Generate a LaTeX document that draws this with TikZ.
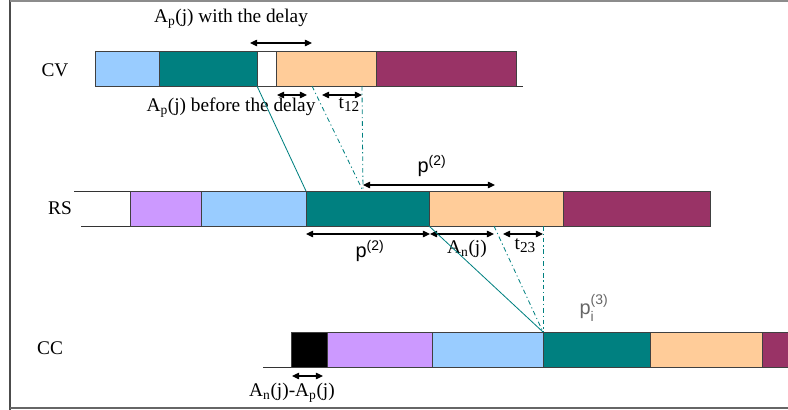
\documentclass[tikz,border=0pt]{standalone}
\usepackage{amsmath}
\usepackage{fontspec}
\setmainfont{Liberation Serif}
\newfontfamily\arialfont{Liberation Sans}
\usetikzlibrary{positioning,arrows.meta}
\definecolor{skyblue}{HTML}{99CCFF}
\definecolor{seateal}{HTML}{008080}
\definecolor{peach}{HTML}{FFCC99}
\definecolor{plum}{HTML}{993366}
\definecolor{lilac}{HTML}{CC99FF}

\begin{document}
\begin{tikzpicture}[x=0.3mm,y=-0.3mm,
  seg/.style={draw=black!75,line width=0.6pt,fill=#1,minimum height=35*0.3mm,
              inner sep=0pt,outer sep=0pt},
  len/.style={minimum width=#1*0.3mm},
  dim/.style={{Triangle[length=6pt,width=5.5pt]}-{Triangle[length=6pt,width=5.5pt]},line width=0.9pt},
  link/.style={seateal,line width=0.7pt},
  dd/.style={seateal,line width=0.7pt,dash pattern=on 4pt off 2.5pt on 1pt off 2.5pt},
  lbl/.style={font=\fontsize{16.5}{19}\selectfont,inner sep=0pt},
  slbl/.style={font=\arialfont\fontsize{17}{19}\selectfont,inner sep=0pt}]
\clip (0,0) rectangle (788,410);
% frame
\draw[black!70,line width=1.6pt] (10,0) -- (10,410);
\draw[black!45,line width=1.2pt] (10,1) -- (788,1);
\draw[black!60,line width=1.2pt] (10,408) -- (788,408);

% CV row
\node[lbl] (cvlbl) at (55,70) {CV};
\node[seg=skyblue,len=64,anchor=north west] (cv1) at (95,51) {};
\node[seg=seateal,len=98,right=0pt of cv1] (cv2) {};
\node[seg=white,len=19,right=0pt of cv2] (cv3) {};
\node[seg=peach,len=100,right=0pt of cv3] (cv4) {};
\node[seg=plum,len=140,right=0pt of cv4] (cv5) {};
\coordinate (cvend) at (523,86);
\draw[black!80,line width=0.6pt] (cv5.south east) -- (cvend);

% RS row
\node[lbl] (rslbl) at (60,208) {RS};
\node[seg=lilac,len=71,anchor=north west] (rs1) at (130,191) {};
\node[seg=skyblue,len=105,right=0pt of rs1] (rs2) {};
\node[seg=seateal,len=123,right=0pt of rs2] (rs3) {};
\node[seg=peach,len=134,right=0pt of rs3] (rs4) {};
\node[seg=plum,len=147,right=0pt of rs4] (rs5) {};
\coordinate (rstop) at (74,191);
\coordinate (rsbot) at (81,226);
\draw[black!80,line width=0.6pt] (rstop) -- (rs1.north west);
\draw[black!80,line width=0.6pt] (rsbot) -- (rs1.south west);

% CC row
\node[lbl] (cclbl) at (50,348) {CC};
\node[seg=black,len=36,anchor=north west] (cc1) at (291,332) {};
\node[seg=lilac,len=105,right=0pt of cc1] (cc2) {};
\node[seg=skyblue,len=111,right=0pt of cc2] (cc3) {};
\node[seg=seateal,len=107,right=0pt of cc3] (cc4) {};
\node[seg=peach,len=112,right=0pt of cc4] (cc5) {};
\node[seg=plum,len=60,right=0pt of cc5] (cc6) {};
\coordinate (ccbot) at (263,367);
\draw[black!80,line width=0.6pt] (ccbot) -- (cc1.south west);

% CV dimensions
\coordinate (wd1) at (250,43); \coordinate (wd2) at (312,43);
\draw[dim] (wd1) -- (wd2);
\node[lbl] (withlbl) at (231,19) {A\textsubscript{p}(j) with the delay};
\coordinate (bd1) at (277,95); \coordinate (bd2) at (307,95);
\draw[dim] (bd1) -- (bd2);
\coordinate (ta1) at (322,95); \coordinate (ta2) at (362,95);
\draw[dim] (ta1) -- (ta2);
\node[lbl] (beforelbl) at (231,108) {A\textsubscript{p}(j) before the delay};
\node[lbl] (t12lbl) at (349,105) {t\raisebox{-2.5pt}{\fontsize{13}{15}\selectfont 12}};

% CV -> RS
\coordinate (cvq) at (312,86); \coordinate (cvr) at (362,86);
\coordinate (rsp) at (363,191);
\draw[link] (cv2.south east) -- (rs3.north west);
\draw[dd] (cvq) -- (rsp);
\draw[dd] (cvr) -- (rsp);

% RS dimensions
\coordinate (ua1) at (363,185); \coordinate (ua2) at (495,185);
\draw[dim] (ua1) -- (ua2);
\node[slbl] (pup) at (432,166) {p\textsuperscript{(2)}};
\coordinate (la1) at (306,234); \coordinate (la2) at (430,234);
\coordinate (la3) at (494,234);
\coordinate (la4) at (503,234); \coordinate (la5) at (543,234);
\draw[dim] (la1) -- (la2);
\draw[dim] (la2) -- (la3);
\draw[dim] (la4) -- (la5);
\node[slbl] (plow) at (370,251) {p\textsuperscript{(2)}};
\node[lbl] (anlbl) at (467,249) {A\textsubscript{n}(j)};
\node[lbl] (t23lbl) at (525,246) {t\raisebox{-2.5pt}{\fontsize{13}{15}\selectfont 23}};

% RS -> CC
\coordinate (rsq) at (494,226); \coordinate (rsr) at (543,226);
\draw[link] (rs3.south east) -- (cc4.north west);
\draw[dd] (rsq) -- (cc4.north west);
\draw[dd] (rsr) -- (cc4.north west);
\node[slbl,text=black!60] (pilbl) at (594,308) {$\text{p}_{\text{i}}^{\text{(3)}}$};

% CC dimension
\coordinate (cd1) at (292,376); \coordinate (cd2) at (323,376);
\draw[dim] (cd1) -- (cd2);
\node[lbl] (difflbl) at (292,393) {A\textsubscript{n}(j)-A\textsubscript{p}(j)};
\end{tikzpicture}
\end{document}
